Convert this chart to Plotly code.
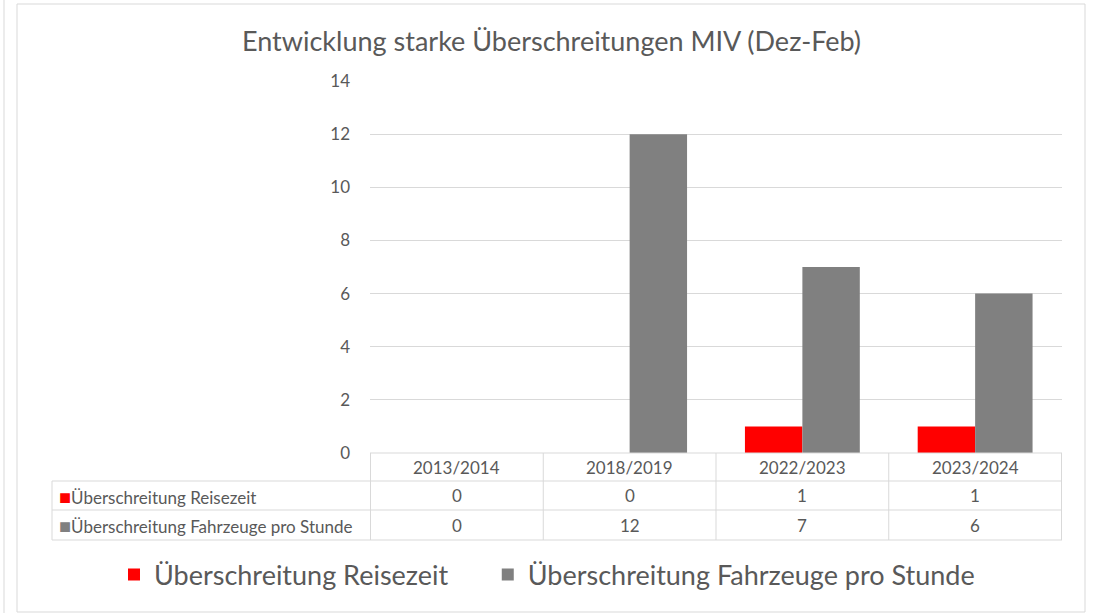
import plotly.graph_objects as go

categories = ["2013/2014", "2018/2019", "2022/2023", "2023/2024"]
reisezeit = [0, 0, 1, 1]
fahrzeuge = [0, 12, 7, 6]
series_names = ["Überschreitung Reisezeit", "Überschreitung Fahrzeuge pro Stunde"]
series_colors = ["#FF0000", "#808080"]
title_text = "Entwicklung starke Überschreitungen MIV (Dez-Feb)"

W, H = 1094, 613
L, R, T, B = 370, 1062, 81, 453
FONT = "Lato, 'Open Sans', Arial"
TXT = "#595959"
GRID = "#d9d9d9"

def px(x):
    return (x - L) / (R - L)

def py(y):
    return (B - y) / (B - T)

fig = go.Figure()
legend_pad = ["\u00a0" * 5, ""]
for name, vals, col, pad in zip(series_names, [reisezeit, fahrzeuge], series_colors, legend_pad):
    fig.add_trace(go.Bar(x=categories, y=vals, name=name + pad, marker=dict(color=col, line=dict(width=0))))

shapes = []
line = dict(color=GRID, width=1)
shapes.append(dict(type="rect", xref="paper", yref="paper", x0=px(17), x1=px(1085), y0=py(4), y1=py(612), line=dict(color="#d9d9d9", width=1)))
shapes.append(dict(type="line", xref="paper", yref="paper", x0=px(4), x1=px(4), y0=py(0), y1=py(613), line=dict(color="#d9d9d9", width=1)))
shapes.append(dict(type="line", xref="paper", yref="paper", x0=0, x1=1, y0=0, y1=0, line=line))
for yy in [481, 510, 540]:
    shapes.append(dict(type="line", xref="paper", yref="paper", x0=px(52), x1=1, y0=py(yy), y1=py(yy), line=line))
shapes.append(dict(type="line", xref="paper", yref="paper", x0=px(52), x1=px(52), y0=py(481), y1=py(540), line=line))
for i in range(len(categories) + 1):
    shapes.append(dict(type="line", xref="x", yref="paper", x0=i - 0.5, x1=i - 0.5, y0=0, y1=py(540), line=line))

annotations = []
row_centers = [467, 496, 525]
tfont = dict(size=17, color=TXT, family=FONT)
for i, c in enumerate(categories):
    annotations.append(dict(x=c, xref="x", y=py(row_centers[0]), yref="paper", text=c, showarrow=False,
                            xanchor="center", yanchor="middle", font=tfont))
    for r, vals in enumerate([reisezeit, fahrzeuge]):
        annotations.append(dict(x=c, xref="x", y=py(row_centers[r + 1]), yref="paper", text=str(vals[i]),
                                showarrow=False, xanchor="center", yanchor="middle", font=tfont))
for r, (name, col) in enumerate(zip(series_names, series_colors)):
    annotations.append(dict(x=px(57), xref="paper", y=py(row_centers[r + 1]), yref="paper", xanchor="left",
                            yanchor="middle",
                            text=f"<span style='color:{col};font-size:20px'>■</span>{name}", showarrow=False,
                            font=tfont))

annotations.append(dict(x=px(551), xref="paper", y=py(40), yref="paper", text=title_text, showarrow=False,
                        xanchor="center", yanchor="middle", font=dict(size=27, color=TXT, family=FONT)))

fig.update_layout(
    width=W, height=H,
    margin=dict(l=L, r=W - R, t=T, b=H - B, pad=0, autoexpand=False),
    paper_bgcolor="white", plot_bgcolor="white",
    barmode="group", bargap=0.335, bargroupgap=0,
    showlegend=True,
    legend=dict(orientation="h", x=px(114), xanchor="left", y=py(575), yanchor="middle",
                font=dict(size=27, color=TXT, family=FONT), itemwidth=30, traceorder="normal"),
    xaxis=dict(showticklabels=False, showgrid=False, zeroline=False, showline=False, ticks=""),
    yaxis=dict(range=[0, 14], dtick=2, showgrid=True, gridcolor=GRID, gridwidth=1, zeroline=False,
               showline=False, ticks="", tickfont=dict(size=17, color=TXT, family=FONT), ticklabelstandoff=19),
    shapes=shapes, annotations=annotations,
)
fig.write_html("out.html", config={"displayModeBar": False},
               post_script="document.body.style.margin='0';document.body.style.padding='0';")
